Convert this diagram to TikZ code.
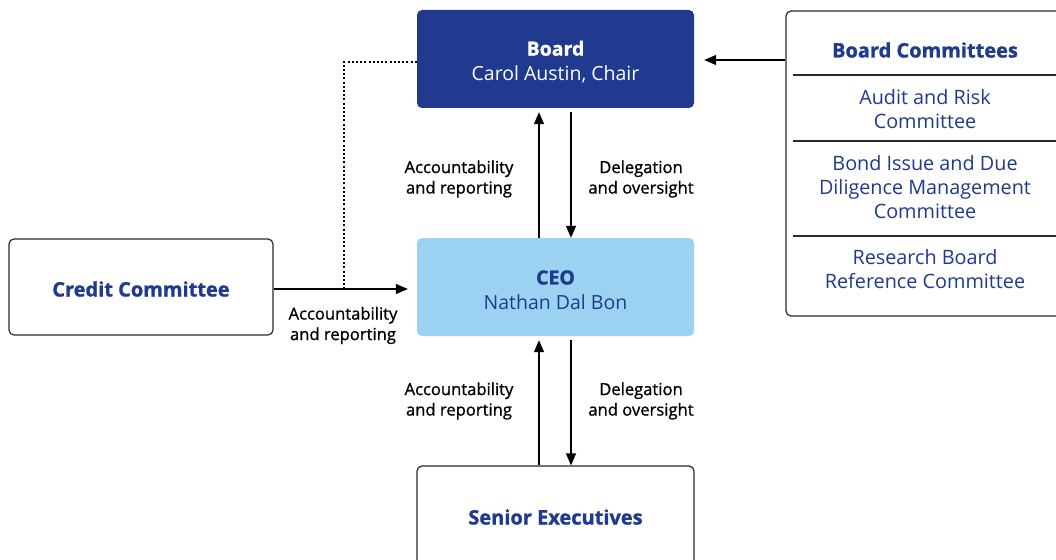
\documentclass[tikz,border=0pt]{standalone}
\usepackage{fontspec}
\setmainfont{Open Sans}[BoldFeatures={FakeBold=1.2}]
\newfontfamily\medfont{Open Sans}[FakeBold=1]
\usetikzlibrary{arrows.meta,calc}
\definecolor{navy}{HTML}{1F3A8F}
\definecolor{sky}{HTML}{9BD2F1}
\definecolor{edgec}{HTML}{2A2A2A}
\tikzset{
  box/.style={rectangle, rounded corners=5pt, minimum width=277pt, minimum height=98pt, align=center, inner sep=0pt},
  whitebox/.style={box, draw=edgec, line width=1.2pt, fill=white},
  arr/.style={line width=1.2pt, -{Triangle[length=12pt,width=10pt]}},
  lbl/.style={font=\fontsize{16.6}{20.5}\selectfont\medfont, align=center, text=black},
  ttl/.style={font=\fontsize{20}{25}\selectfont\bfseries, text=navy},
  maintxt/.style={font=\fontsize{19.5}{25}\selectfont},
  itemtxt/.style={font=\fontsize{19.8}{24}\selectfont, text=navy, align=center},
  divider/.style={line width=1.2pt, draw=edgec}
}
\begin{document}
\begin{tikzpicture}[x=1pt,y=-1pt]
\clip (0,0) rectangle (1056,559);
\fill[white] (0,0) rectangle (1056,559);

\node[box, maintxt, fill=navy, text=white] (board) at (555.5,59) {};
\node[maintxt, text=white, align=center] (boardt) at (555.5,62) {\textbf{Board}\\Carol Austin, Chair};
\node[box, maintxt, fill=sky, text=navy] (ceo) at (555.5,287) {};
\node[maintxt, text=navy, align=center] (ceot) at (555.5,290) {\textbf{CEO}\\Nathan Dal Bon};
\node[whitebox, minimum height=110pt] (senior) at (555.5,521) {};
\node[ttl] (seniort) at (555.5,517) {Senior Executives};
\node[whitebox, minimum width=264pt, minimum height=96pt] (credit) at (141,287) {};
\node[ttl] (creditt) at (141,289) {Credit Committee};

\node[whitebox, minimum width=290pt, minimum height=305pt] (comm) at (931,163.5) {};
\node[ttl] (commt) at (925,50) {Board Committees};
\node[itemtxt] (audit) at (925,109) {Audit and Risk\\Committee};
\node[itemtxt] (bond) at (925,187) {Bond Issue and Due\\Diligence Management\\Committee};
\node[itemtxt] (research) at (925,269) {Research Board\\Reference Committee};
\coordinate (d1) at (793,75);
\coordinate (d2) at (793,141);
\coordinate (d3) at (793,236);
\draw[divider] (d1) -- ++(270,0);
\draw[divider] (d2) -- ++(270,0);
\draw[divider] (d3) -- ++(270,0);

% board <-> ceo
\draw[arr, shorten >=4pt] ([xshift=-16.5pt]ceo.north) -- ([xshift=-16.5pt]board.south);
\draw[arr, shorten <=4pt] ([xshift=15.5pt]board.south) -- ([xshift=15.5pt]ceo.north);
\node[lbl] (l1) at (459,179) {Accountability\\and reporting};
\node[lbl] (l2) at (641,179) {Delegation\\and oversight};

% ceo <-> senior
\draw[arr, shorten >=4pt] ([xshift=-16.5pt]senior.north) -- ([xshift=-16.5pt]ceo.south);
\draw[arr, shorten <=4pt] ([xshift=15.5pt]ceo.south) -- ([xshift=15.5pt]senior.north);
\node[lbl] (l3) at (459,401) {Accountability\\and reporting};
\node[lbl] (l4) at (641,401) {Delegation\\and oversight};

% credit -> ceo
\draw[arr, shorten >=9pt] ([yshift=-2pt]credit.east) -- ([yshift=-2pt]ceo.west);
\node[lbl] (l5) at (343,325.5) {Accountability\\and reporting};
\coordinate (dotc) at (344,289);
\draw[line width=2pt, dash pattern=on 2pt off 2.2pt] ([yshift=-3pt]board.west) -| (dotc);

% committees -> board
\draw[arr, shorten >=10pt] (comm.west |- 0,60) -- (board.east |- 0,60);
\end{tikzpicture}
\end{document}
